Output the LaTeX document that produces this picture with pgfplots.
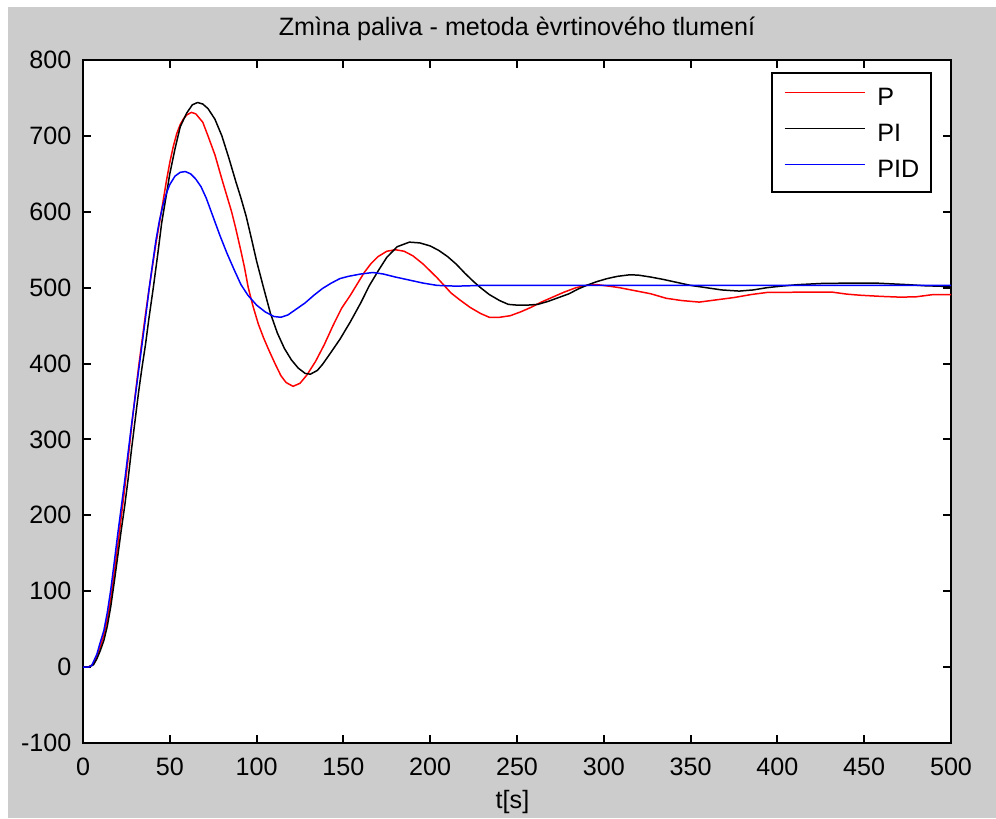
\documentclass[border=0pt]{standalone}
\usepackage{pgfplots}
\pgfplotsset{compat=1.18}
\usepackage{fontspec}
\setmainfont{Liberation Sans}
\definecolor{figbg}{gray}{0.8}
\begin{document}
\begin{tikzpicture}[font=\fontsize{14.3}{17}\selectfont]
\fill[white] (-1.66,-1.5) rectangle (18.26,14.86);
\fill[figbg] (-1.50,-1.5) rectangle (18.26,14.72);
\path[use as bounding box] (-1.66,-1.5) rectangle (18.26,14.86);
\begin{axis}[
  scale only axis, width=17.36cm, height=13.66cm,
  xmin=0, xmax=500, ymin=-100, ymax=800,
  xtick={0,50,...,500}, ytick={-100,0,...,800},
  axis background/.style={fill=white},
  axis line style={black, line width=1.1pt},
  tick align=inside, major tick length=0.16cm,
  tick style={black, line width=1.1pt},
  /pgf/number format/assume math mode=true,
  /pgf/number format/1000 sep={},
  xticklabel style={anchor=base, inner sep=0pt, yshift=-0.64cm},
  yticklabel style={anchor=east, inner sep=0pt, xshift=-0.226cm},
  every axis title shift=0pt,
  title={Zmìna paliva - metoda èvrtinového tlumení},
  title style={at={(0.5,1)}, anchor=base, inner sep=0pt, yshift=0.5cm},
  xlabel={t[s]},
  xlabel style={at={(0.5,0)}, anchor=base, inner sep=0pt, yshift=-1.3cm, xshift=-0.09cm},
  legend cell align=left,
  legend image code/.code={\draw[#1, line width=0.85pt] (0cm,0.07cm) -- (1.6cm,0.07cm);},
  legend style={at={(1,1)}, anchor=north east, xshift=-0.374cm, yshift=-0.234cm,
    draw=black, line width=1.1pt, fill=white, inner xsep=0.24cm, inner ysep=0.29cm,
    row sep=0.36cm,
    nodes={inner sep=0pt, text height=0.36cm, text depth=0pt},
    /tikz/every odd column/.append style={column sep=0.24cm}},
]
\addplot[red, line width=0.85pt, line join=round] coordinates {
(0,0) (3,0) (6,4) (8,14) (10,27) (12,42) (14,63) (16,90) (18,124) (20,160)
(22,197) (24,235) (26,275) (28,317) (30,357) (32,395) (34,430) (36,465) (38,497)
(40,528) (42,558) (44,585) (46,612) (48,640) (50,665) (52,686) (54,703) (56,715)
(58,723) (60,728) (62.5,731) (65,729) (69,718) (72,700) (76,675) (80,643) (83,620)
(85.6,600) (88,578) (91,548) (93,527) (95.2,500) (98,475) (101,452) (104,434)
(107,418) (110.6,400) (114,384) (117,375) (121,370) (125,374) (129,385) (134,403)
(139,425) (144,450) (149,473) (154,490) (158,505) (162,520) (166,532) (170,541)
(175,548) (180,550) (185,548) (190,542) (196,531) (200,522) (204,513) (208,503)
(212,493) (217,484) (223,474) (229,466) (234,461) (240,461) (246,463) (252,468)
(258,474) (264,481) (270,487) (277,494) (284,500) (290,503) (296,504) (303,502)
(309,500) (318,496) (327,492) (336,486) (345,483) (355,481) (365,484) (375,487)
(385,491) (394,493.7) (410,494) (432,494) (440,491.5) (448,490) (460,488.5)
(471,487.5) (480,488) (490,491) (500,491)
};
\addlegendentry{P}
\addplot[black, line width=0.85pt, line join=round] coordinates {
(0,0) (3,0) (6,3) (8,11) (10,22) (12,35) (14,54) (16,80) (18,112) (20,146)
(22,180) (24,212) (26,248) (28,288) (30,325) (32,362) (34,395) (36,425) (38,460)
(40.5,500) (43,543) (45.3,585) (48,622) (50,650) (53,683) (56,712) (59.7,730)
(63,741) (66,744) (69,742) (72,736) (76,722) (80,700) (84,671) (88,640) (91,618)
(94,594) (97,565) (100,535) (104,500) (108,466) (112,440) (116,420) (120,405)
(124,394) (128,387) (131,386) (135,391) (138,399) (142,412) (148,432) (154,455)
(160,480) (165,503) (170,522) (175,540) (181,554) (188,560) (194,559) (200,555)
(205,549) (210,541) (215,531) (220,519) (225,508) (229,500) (234,491) (240,483)
(245,478) (250,477) (256,477) (262,478) (268,482) (274,487) (280,492) (285,498)
(290,503) (296,508) (302,512) (308,515) (315,517) (320,516.5) (327,514) (334,511)
(342,507) (350,503) (359,500) (368,497) (378,495.5) (386,497) (394,500) (402,502)
(412,504) (425,505.5) (440,506) (457,506) (466,505) (475,504) (485,502.5) (500,501.5)
};
\addlegendentry{PI}
\addplot[blue, line width=0.85pt, line join=round] coordinates {
(0,0) (3,0) (5,2) (8,17) (10,33) (12,48) (14,72) (16,102) (18,138) (20,175)
(22,210) (24,245) (26,283) (28,320) (30,355) (32,390) (34,425) (36,460) (38,497)
(40,530) (42,562) (44,588) (46,608) (48,624) (50,636) (53,647) (56,652) (59,653)
(62,650) (65,643) (68,633) (71,618) (75,593) (79,568) (83,545) (87,524) (91,504)
(95,490) (100,477) (105,468) (110,462) (114,461) (118,464) (123,472) (128,480)
(133,490) (138,499) (143,506) (148,512) (153,515) (160,518) (167,520) (173,518)
(180,514) (188,510) (196,506) (204,503) (215,502) (230,503) (260,503) (300,503)
(400,503) (500,503)
};
\addlegendentry{PID}
\end{axis}
\end{tikzpicture}
\end{document}
